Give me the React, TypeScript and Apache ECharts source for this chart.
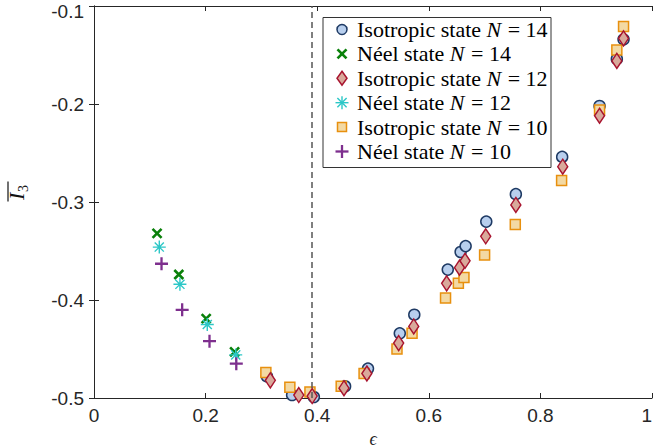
import React, { useEffect, useRef } from "react";
import * as echarts from "echarts";

// ---- data ----
const iso14Eps = [0.310, 0.355, 0.394, 0.450, 0.491, 0.548, 0.574, 0.634, 0.657, 0.666, 0.703, 0.756, 0.839, 0.906, 0.937, 0.949];
const iso14Val = [-0.478, -0.497, -0.499, -0.488, -0.470, -0.434, -0.415, -0.369, -0.351, -0.345, -0.320, -0.292, -0.254, -0.202, -0.154, -0.134];

const iso12Eps = [0.316, 0.367, 0.391, 0.448, 0.489, 0.546, 0.573, 0.632, 0.655, 0.665, 0.702, 0.756, 0.840, 0.906, 0.937, 0.949];
const iso12Val = [-0.482, -0.497, -0.498, -0.490, -0.475, -0.444, -0.427, -0.383, -0.367, -0.360, -0.335, -0.303, -0.264, -0.212, -0.156, -0.133];

const iso10Eps = [0.308, 0.351, 0.387, 0.443, 0.484, 0.543, 0.570, 0.630, 0.653, 0.663, 0.700, 0.755, 0.838, 0.906, 0.937, 0.949];
const iso10Val = [-0.474, -0.489, -0.494, -0.488, -0.475, -0.450, -0.434, -0.398, -0.383, -0.377, -0.354, -0.323, -0.278, -0.206, -0.145, -0.121];

const neel14Eps = [0.113, 0.152, 0.201, 0.252];
const neel14Val = [-0.332, -0.374, -0.419, -0.453];
const neel12Eps = [0.117, 0.154, 0.203, 0.254];
const neel12Val = [-0.346, -0.384, -0.425, -0.456];
const neel10Eps = [0.121, 0.158, 0.207, 0.255];
const neel10Val = [-0.363, -0.410, -0.442, -0.465];

const criticalEps = 0.394;

const xTicks = { min: 0, max: 1, interval: 0.2 };
const yTicks = { min: -0.5, max: -0.1, interval: 0.1 };

// legend entries in reference order: [state label, N]
const legendStates = ["Isotropic state", "Néel state", "Isotropic state", "Néel state", "Isotropic state", "Néel state"];
const legendN = [14, 14, 12, 12, 10, 10];
const legendKeys = ["iso14", "neel14", "iso12", "neel12", "iso10", "neel10"];

const zip = (xs: number[], ys: number[]) => xs.map((x, i) => [x, ys[i]]);

const AX = "#262626";
const SERIF = "'Liberation Serif', 'Times New Roman', serif";
const SANS = "'Liberation Sans', Arial, Helvetica, sans-serif";

const STY: Record<string, any> = {
  iso14: { fill: "#b8cfee", stroke: "#1e3a64" },
  iso12: { fill: "#d9a99b", stroke: "#a8142f" },
  iso10: { fill: "#f3d9a3", stroke: "#e8900e" },
  neel14: { stroke: "#0a800a" },
  neel12: { stroke: "#2cc7c7" },
  neel10: { stroke: "#7e2f8e" },
};

function legendIcon(key: string, cx: number, cy: number): any[] {
  const s = STY[key];
  const ln = (x1: number, y1: number, x2: number, y2: number, w: number) => ({
    type: "line",
    z: 20,
    shape: { x1: cx + x1, y1: cy + y1, x2: cx + x2, y2: cy + y2 },
    style: { stroke: s.stroke, lineWidth: w },
  });
  switch (key) {
    case "iso14":
      return [{ type: "circle", z: 20, shape: { cx, cy, r: 5 }, style: { fill: s.fill, stroke: s.stroke, lineWidth: 1.5 } }];
    case "iso12":
      return [{
        type: "polygon", z: 20,
        shape: { points: [[cx, cy - 7], [cx + 5, cy], [cx, cy + 7], [cx - 5, cy]] },
        style: { fill: s.fill, stroke: s.stroke, lineWidth: 1.5 },
      }];
    case "iso10":
      return [{ type: "rect", z: 20, shape: { x: cx - 4.5, y: cy - 4.5, width: 9, height: 9 }, style: { fill: s.fill, stroke: s.stroke, lineWidth: 1.5 } }];
    case "neel14":
      return [ln(-4.5, -4.5, 4.5, 4.5, 2.6), ln(4.5, -4.5, -4.5, 4.5, 2.6)];
    case "neel12":
      return [ln(0, -6.5, 0, 6.5, 1.4), ln(-6.5, 0, 6.5, 0, 1.4), ln(-4.6, -4.6, 4.6, 4.6, 1.4), ln(4.6, -4.6, -4.6, 4.6, 1.4)];
    default:
      return [ln(0, -6.5, 0, 6.5, 2.3), ln(-6.5, 0, 6.5, 0, 2.3)];
  }
}

export default function App() {
  const ref = useRef<HTMLDivElement>(null);
  useEffect(() => {
    if (!ref.current) return;
    const chart = echarts.init(ref.current, undefined, { renderer: "svg" });

    const LFS = 22;
    const ctx = document.createElement("canvas").getContext("2d")!;
    const measure = (t: string, italic = false) => {
      ctx.font = `${italic ? "italic " : ""}${LFS}px 'Liberation Serif'`;
      return ctx.measureText(t).width;
    };

    const legendEls: any[] = [
      {
        type: "rect",
        z: 15,
        shape: { x: 323, y: 17.5, width: 228, height: 150 },
        style: { fill: "#fff", stroke: "#333", lineWidth: 1 },
      },
    ];
    const rowY0 = 29.5;
    const rowGap = 24.4;
    const iconX = 342;
    const textX = 357;
    legendKeys.forEach((key, i) => {
      const cy = rowY0 + i * rowGap;
      legendEls.push(...legendIcon(key, iconX, cy));
      const part1 = legendStates[i] + " ";
      const w1 = measure(part1);
      const wN = measure("N", true);
      const common = { fontFamily: SERIF, fontSize: LFS, fill: "#000", verticalAlign: "middle", align: "left" };
      legendEls.push({ type: "text", z: 20, style: { ...common, text: part1, x: textX, y: cy } });
      legendEls.push({ type: "text", z: 20, style: { ...common, fontStyle: "italic", text: "N", x: textX + w1, y: cy } });
      legendEls.push({ type: "text", z: 20, style: { ...common, text: ` = ${legendN[i]}`, x: textX + w1 + wN + 1, y: cy } });
    });

    const axisCommon = {
      type: "value" as const,
      axisLine: { show: true, lineStyle: { color: AX, width: 1 } },
      axisTick: { show: true, inside: true, length: 5, lineStyle: { color: AX, width: 1 } },
      splitLine: { show: false },
    };

    const option: any = {
      animation: false,
      grid: { left: 94, right: 2, top: 6, bottom: 50, containLabel: false, outerBoundsMode: "none" },
      xAxis: [
        {
          ...axisCommon,
          ...xTicks,
          position: "bottom",
          name: "ϵ",
          nameLocation: "middle",
          nameGap: 32,
          nameTextStyle: { fontFamily: SERIF, fontStyle: "italic", fontSize: 18, color: AX },
          axisLabel: {
            fontFamily: SANS,
            fontSize: 19,
            color: AX,
            margin: 8,
            alignMaxLabel: "right",
            formatter: (v: number) => (Math.abs(v) < 1e-9 ? "0" : Math.abs(v - 1) < 1e-9 ? "1" : v.toFixed(1)),
          },
        },
        {
          ...axisCommon,
          ...xTicks,
          position: "top",
          axisLabel: { show: false },
        },
      ],
      yAxis: [
        {
          ...axisCommon,
          ...yTicks,
          position: "left",
          axisLabel: {
            fontFamily: SANS,
            fontSize: 19,
            lineHeight: 10,
            color: AX,
            margin: 10,
            verticalAlignMaxLabel: "top",
            formatter: (v: number) => v.toFixed(1),
          },
        },
        {
          ...axisCommon,
          ...yTicks,
          position: "right",
          axisLabel: { show: false },
        },
      ],
      graphic: [
        ...legendEls,
        {
          type: "group",
          x: 27,
          y: 201,
          rotation: Math.PI / 2,
          children: [
            {
              type: "text",
              style: {
                text: "I",
                x: 1,
                y: 0,
                fontFamily: SERIF,
                fontStyle: "italic",
                fontSize: 22,
                fill: "#111",
                verticalAlign: "bottom",
                align: "left",
              },
            },
            {
              type: "text",
              style: {
                text: "3",
                x: 9,
                y: 3,
                fontFamily: SERIF,
                fontSize: 14,
                fill: "#111",
                verticalAlign: "bottom",
                align: "left",
              },
            },
            {
              type: "line",
              shape: { x1: -0.5, y1: -19, x2: 19.5, y2: -19 },
              style: { stroke: "#111", lineWidth: 1.2 },
            },
          ],
        },
      ],
      series: [
        {
          name: "Isotropic state N = 14",
          type: "scatter",
          data: zip(iso14Eps, iso14Val),
          symbol: "circle",
          symbolSize: 11,
          itemStyle: { color: STY.iso14.fill, borderColor: STY.iso14.stroke, borderWidth: 1.5, opacity: 1 },
          markLine: {
            silent: true,
            symbol: "none",
            label: { show: false },
            lineStyle: { type: [6, 4], color: "#555", width: 1.5 },
            data: [{ xAxis: criticalEps }],
          },
        },
        {
          name: "Isotropic state N = 10",
          type: "scatter",
          data: zip(iso10Eps, iso10Val),
          symbol: "rect",
          symbolSize: 10,
          itemStyle: { color: STY.iso10.fill, borderColor: STY.iso10.stroke, borderWidth: 1.5, opacity: 1 },
        },
        {
          name: "Isotropic state N = 12",
          type: "scatter",
          data: zip(iso12Eps, iso12Val),
          symbol: "diamond",
          symbolSize: [10, 15],
          itemStyle: { color: STY.iso12.fill, borderColor: STY.iso12.stroke, borderWidth: 1.5, opacity: 1 },
        },
        {
          name: "Néel state N = 14",
          type: "scatter",
          data: zip(neel14Eps, neel14Val),
          symbol: "path://M0,0 L10,10 M10,0 L0,10",
          symbolSize: 9,
          itemStyle: { color: STY.neel14.stroke, borderColor: STY.neel14.stroke, borderWidth: 2.6, opacity: 1 },
        },
        {
          name: "Néel state N = 12",
          type: "scatter",
          data: zip(neel12Eps, neel12Val),
          symbol: "path://M5,0 L5,10 M0,5 L10,5 M1.5,1.5 L8.5,8.5 M8.5,1.5 L1.5,8.5",
          symbolSize: 13,
          itemStyle: { color: STY.neel12.stroke, borderColor: STY.neel12.stroke, borderWidth: 1.4, opacity: 1 },
        },
        {
          name: "Néel state N = 10",
          type: "scatter",
          data: zip(neel10Eps, neel10Val),
          symbol: "path://M5,0 L5,10 M0,5 L10,5",
          symbolSize: 13,
          itemStyle: { color: STY.neel10.stroke, borderColor: STY.neel10.stroke, borderWidth: 2.3, opacity: 1 },
        },
      ],
    };

    chart.setOption(option);
    return () => chart.dispose();
  }, []);

  return (
    <div
      ref={ref}
      style={{ position: "fixed", left: 0, top: 0, width: 654, height: 448, background: "#fff" }}
    />
  );
}
